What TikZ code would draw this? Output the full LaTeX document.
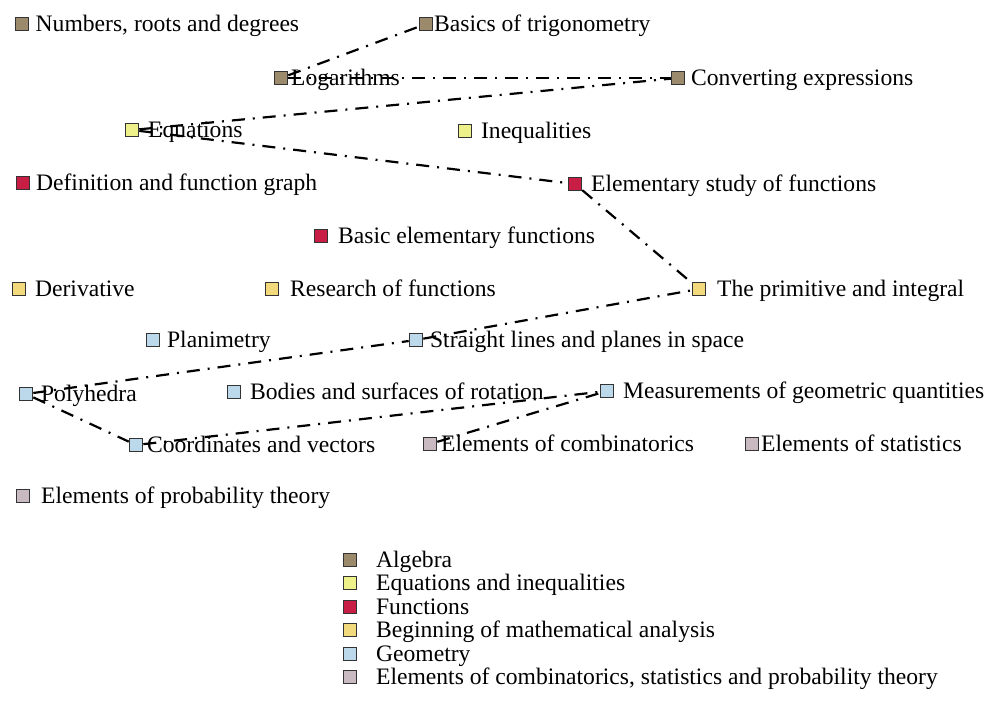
\documentclass[tikz,border=0pt]{standalone}
\usepackage{fontspec}
\setmainfont{Liberation Serif}
\usetikzlibrary{positioning}
\definecolor{AlgBrown}{HTML}{9C8A6C}
\definecolor{EqYellow}{HTML}{EEF08A}
\definecolor{FunRed}{HTML}{C81E46}
\definecolor{AnaYellow}{HTML}{F2DA7C}
\definecolor{GeoBlue}{HTML}{BCD9EC}
\definecolor{CombGray}{HTML}{C9B9C1}

\begin{document}
\begin{tikzpicture}[x=0.5pt,y=-0.5pt,
  sq/.style={draw=black!80,fill=#1,minimum size=6.8pt,inner sep=0pt,line width=0.5pt},
  lbl/.style={inner sep=0pt,anchor=base west,font=\fontsize{11.8}{14}\selectfont},
  link/.style={line width=1.1pt,dash pattern=on 6.5pt off 4pt on 1pt off 4pt}]
  \useasboundingbox (0,0) rectangle (987,706);
  % topics
  \node[sq=AlgBrown] (num) at (22,24) {};
  \node[lbl,right=3pt of num.south east,anchor=base west] {Numbers, roots and degrees};
  \node[sq=AlgBrown] (trig) at (426,24) {};
  \node[lbl,right=0.2pt of trig.south east,anchor=base west] {Basics of trigonometry};
  \node[sq=AlgBrown] (log) at (281,78) {};
  \node[lbl,right=1.2pt of log.south east,anchor=base west] {Logarithms};
  \node[sq=AlgBrown] (conv) at (678,78) {};
  \node[lbl,right=2.7pt of conv.south east,anchor=base west] {Converting expressions};
  \node[sq=EqYellow] (equ) at (132,130) {};
  \node[lbl,right=4.2pt of equ.south east,anchor=base west] {Equations};
  \node[sq=EqYellow] (ineq) at (465,131) {};
  \node[lbl,right=4.2pt of ineq.south east,anchor=base west] {Inequalities};
  \node[sq=FunRed] (defn) at (23,183) {};
  \node[lbl,right=2.7pt of defn.south east,anchor=base west] {Definition and function graph};
  \node[sq=FunRed] (elem) at (575,184) {};
  \node[lbl,right=4.2pt of elem.south east,anchor=base west] {Elementary study of functions};
  \node[sq=FunRed] (basic) at (321,236) {};
  \node[lbl,right=4.7pt of basic.south east,anchor=base west] {Basic elementary functions};
  \node[sq=AnaYellow] (deriv) at (19,289) {};
  \node[lbl,right=4.2pt of deriv.south east,anchor=base west] {Derivative};
  \node[sq=AnaYellow] (research) at (272,289) {};
  \node[lbl,right=5.2pt of research.south east,anchor=base west] {Research of functions};
  \node[sq=AnaYellow] (prim) at (699,289) {};
  \node[lbl,right=5.2pt of prim.south east,anchor=base west] {The primitive and integral};
  \node[sq=GeoBlue] (plan) at (153,340) {};
  \node[lbl,right=3.2pt of plan.south east,anchor=base west] {Planimetry};
  \node[sq=GeoBlue] (lines) at (416,340) {};
  \node[lbl,right=3.2pt of lines.south east,anchor=base west] {Straight lines and planes in space};
  \node[sq=GeoBlue] (poly) at (26,394) {};
  \node[lbl,right=3.7pt of poly.south east,anchor=base west] {Polyhedra};
  \node[sq=GeoBlue] (bodies) at (234,392) {};
  \node[lbl,right=4.2pt of bodies.south east,anchor=base west] {Bodies and surfaces of rotation};
  \node[sq=GeoBlue] (meas) at (607,391) {};
  \node[lbl,right=4.2pt of meas.south east,anchor=base west] {Measurements of geometric quantities};
  \node[sq=GeoBlue] (coord) at (136,445) {};
  \node[lbl,right=1.7pt of coord.south east,anchor=base west] {Coordinates and vectors};
  \node[sq=CombGray] (comb) at (430,444) {};
  \node[lbl,right=1.7pt of comb.south east,anchor=base west] {Elements of combinatorics};
  \node[sq=CombGray] (stat) at (752,444) {};
  \node[lbl,right=0.7pt of stat.south east,anchor=base west] {Elements of statistics};
  \node[sq=CombGray] (prob) at (23,496) {};
  \node[lbl,right=5.2pt of prob.south east,anchor=base west] {Elements of probability theory};
  % links
  \draw[link] (log) -- (trig);
  \draw[link] (log) -- (conv);
  \draw[link] (equ) -- (conv);
  \draw[link] (equ) -- (elem);
  \draw[link] (elem) -- (prim);
  \draw[link] (poly) -- (lines);
  \draw[link] (lines) -- (prim);
  \draw[link] (poly) -- (coord);
  \draw[link] (coord) -- (meas);
  \draw[link] (comb) -- (meas);
  % legend
  \node[sq=AlgBrown] (kalg) at (350,560) {};
  \node[lbl,right=9.2pt of kalg.south east,anchor=base west] {Algebra};
  \node[sq=EqYellow] (keq) at (350,583) {};
  \node[lbl,right=9.2pt of keq.south east,anchor=base west] {Equations and inequalities};
  \node[sq=FunRed] (kfun) at (350,607) {};
  \node[lbl,right=9.2pt of kfun.south east,anchor=base west] {Functions};
  \node[sq=AnaYellow] (kana) at (350,630) {};
  \node[lbl,right=9.2pt of kana.south east,anchor=base west] {Beginning of mathematical analysis};
  \node[sq=GeoBlue] (kgeo) at (350,654) {};
  \node[lbl,right=9.2pt of kgeo.south east,anchor=base west] {Geometry};
  \node[sq=CombGray] (kcomb) at (350,677) {};
  \node[lbl,right=9.2pt of kcomb.south east,anchor=base west] {Elements of combinatorics, statistics and probability theory};
\end{tikzpicture}
\end{document}
